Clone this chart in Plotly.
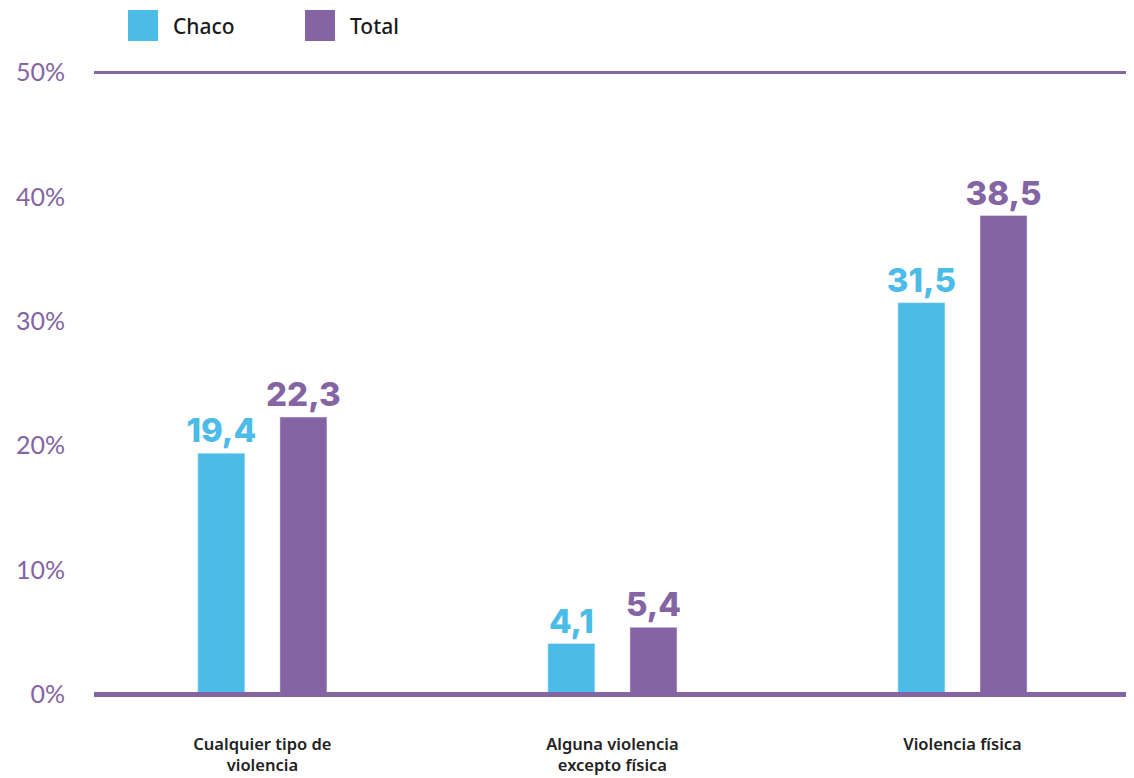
import plotly.graph_objects as go

categories = ["Cualquier tipo de<br>violencia", "Alguna violencia<br>excepto física", "Violencia física"]
series_names = ["Chaco", "Total"]
chaco = [19.4, 4.1, 31.5]
total = [22.3, 5.4, 38.5]
tick_vals = [0, 10, 20, 30, 40, 50]
tick_text = ["0%", "10%", "20%", "30%", "40%", "50%"]

BLUE = "#4bbbe8"
PURPLE = "#8464a3"
COLORS = [BLUE, PURPLE]

# page body has an 8px margin; compensate
W, H = 1126, 770
ML, MR, MT, MB = 86, 0, 62, 81
PW = W - ML - MR
PH = H - MT - MB


def px_x(x):
    return (x - ML) / PW


def px_y(y):
    return (H - MB - y) / PH


fig = go.Figure()
for name, vals, col in zip(series_names, [chaco, total], COLORS):
    fig.add_trace(go.Bar(
        name=name, x=categories, y=vals, marker_color=col,
        texttemplate="%{y:.1f}", textposition="outside", cliponaxis=False,
        constraintext="none",
        textfont=dict(family="Inter", size=33, color=col, weight=800),
    ))

# reference lines at 50% and 0% (extend to right page edge)
fig.add_shape(type="line", xref="paper", yref="y", x0=0, x1=1 + 8 / PW, y0=50, y1=50,
              line=dict(color=PURPLE, width=3), layer="below")
fig.add_shape(type="line", xref="paper", yref="y", x0=0, x1=1 + 8 / PW, y0=0, y1=0,
              line=dict(color=PURPLE, width=5), layer="above")

# custom legend (large square swatches)
legend_x = [120, 297]
for name, col, lx in zip(series_names, COLORS, legend_x):
    fig.add_shape(type="rect", xref="paper", yref="paper",
                  x0=px_x(lx), x1=px_x(lx + 30), y0=px_y(2), y1=px_y(33),
                  fillcolor=col, line=dict(width=0))
    fig.add_annotation(xref="paper", yref="paper", x=px_x(lx + 43), y=px_y(18),
                       xanchor="left", yanchor="middle", text=name, showarrow=False,
                       font=dict(family="Noto Sans", size=21, color="#1a1a1a", weight=500))

fig.update_layout(
    width=W, height=H,
    margin=dict(l=ML, r=MR, t=MT, b=MB),
    paper_bgcolor="white", plot_bgcolor="white",
    separators=",.",
    barmode="group", bargap=0.531, bargroupgap=0.427,
    showlegend=False,
    xaxis=dict(range=[-0.481, 2.49], showgrid=False, showline=False, ticks="",
               ticklabelstandoff=35,
               tickfont=dict(family="Noto Sans", size=16.5, color="#222222", weight=600)),
    yaxis=dict(range=[-0.2, 50.2], tickvals=tick_vals, ticktext=tick_text,
               showgrid=False, zeroline=False,
               showline=False, ticks="", ticklabelstandoff=28,
               tickfont=dict(family="Lato", size=25, color=PURPLE, weight=400)),
)

fig.write_html("out.html")
